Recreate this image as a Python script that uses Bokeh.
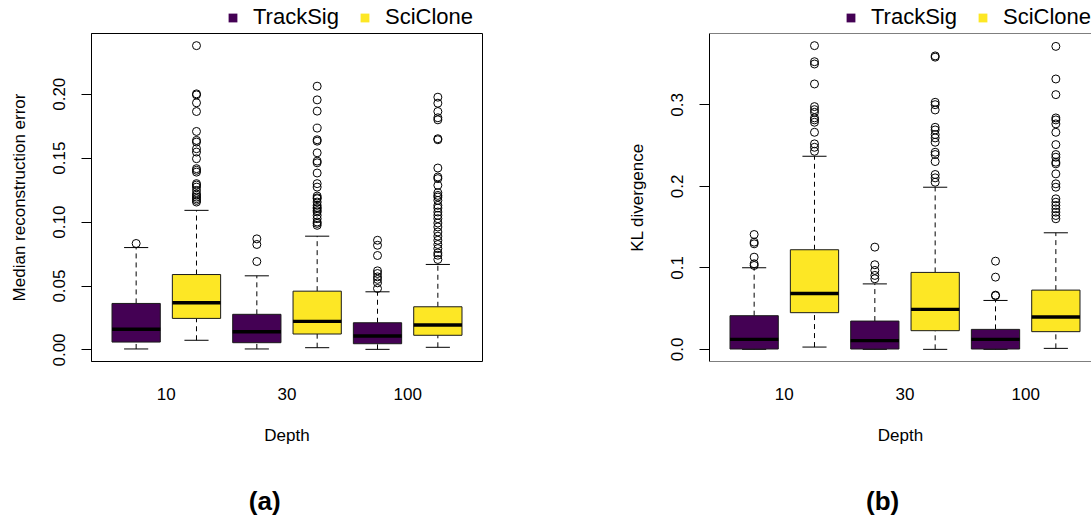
from bokeh.plotting import figure
from bokeh.models import (Range1d, FixedTicker, NumeralTickFormatter, Legend,
                          LegendItem, Label, Span, ColumnDataSource)
from bokeh.layouts import row, column
from bokeh.embed import file_html
from bokeh.resources import INLINE

FONT = "Liberation Sans"

depths = ["10", "30", "100"]
methods = ["TrackSig", "SciClone"]
method_colors = ["#440154", "#FDE725"]

# Box order: TrackSig 10, SciClone 10, TrackSig 30, SciClone 30, TrackSig 100, SciClone 100
err_lower = [0.0008, 0.0076, 0.0008, 0.0018, 0.0005, 0.0021]
err_q1 = [0.0062, 0.0247, 0.0057, 0.0125, 0.0049, 0.0115]
err_median = [0.0162, 0.0369, 0.0143, 0.0224, 0.0109, 0.0195]
err_q3 = [0.0364, 0.0590, 0.0279, 0.0460, 0.0213, 0.0338]
err_upper = [0.0801, 0.1092, 0.0580, 0.0890, 0.0455, 0.0669]
err_outliers = [
    [0.0833],
    [0.2380, 0.2003, 0.1995, 0.1933, 0.1865, 0.1709, 0.1639, 0.1626, 0.1574,
     0.1548, 0.1496, 0.1418, 0.1405, 0.1391, 0.1301, 0.1290, 0.1274, 0.1248,
     0.1222, 0.1210, 0.1196, 0.1183, 0.1170, 0.1157],
    [0.0869, 0.0825, 0.0692],
    [0.2063, 0.1956, 0.1868, 0.1735, 0.1644, 0.1633, 0.1542, 0.1477, 0.1464,
     0.1384, 0.1301, 0.1274, 0.1204, 0.1190, 0.1183, 0.1157, 0.1131, 0.1115,
     0.1105, 0.1090, 0.1079, 0.1053, 0.1027, 0.1001, 0.0990, 0.0975],
    [0.0858, 0.0819, 0.0739, 0.0619, 0.0598, 0.0572, 0.0552, 0.0525, 0.0481],
    [0.1977, 0.1930, 0.1865, 0.1816, 0.1800, 0.1652, 0.1644, 0.1423, 0.1353,
     0.1340, 0.1288, 0.1230, 0.1209, 0.1196, 0.1170, 0.1131, 0.1110, 0.1079,
     0.1053, 0.1027, 0.0993, 0.0962, 0.0923, 0.0890, 0.0858, 0.0825, 0.0793,
     0.0759, 0.0741, 0.0708],
]

kl_lower = [0.0, 0.0028, 0.0, 0.0, 0.0, 0.0012]
kl_q1 = [0.0004, 0.0450, 0.0004, 0.0229, 0.0004, 0.0217]
kl_median = [0.0123, 0.0686, 0.0107, 0.0490, 0.0123, 0.0396]
kl_q3 = [0.0413, 0.1222, 0.0347, 0.0944, 0.0245, 0.0727]
kl_upper = [0.1001, 0.2369, 0.0803, 0.1989, 0.0600, 0.1430]
kl_outliers = [
    [0.1409, 0.1315, 0.1295, 0.1131, 0.1050, 0.1029],
    [0.3726, 0.3529, 0.3501, 0.3256, 0.2978, 0.2941, 0.2908, 0.2840, 0.2815,
     0.2786, 0.2663, 0.2521, 0.2479, 0.2430],
    [0.1254, 0.1038, 0.0968, 0.0907, 0.0866],
    [0.3600, 0.3585, 0.3031, 0.3002, 0.2937, 0.2724, 0.2692, 0.2635, 0.2594,
     0.2541, 0.2418, 0.2390, 0.2304, 0.2145, 0.2104, 0.2050],
    [0.1082, 0.0886, 0.0665, 0.0658],
    [0.3717, 0.3317, 0.3125, 0.2839, 0.2815, 0.2766, 0.2663, 0.2512, 0.2390,
     0.2357, 0.2296, 0.2276, 0.2153, 0.2031, 0.1989, 0.1847, 0.1805, 0.1765,
     0.1724, 0.1683, 0.1642, 0.1602],
]

err_ticks = [0.0, 0.05, 0.10, 0.15, 0.20]
kl_ticks = [0.0, 0.1, 0.2, 0.3]

BOX_W = 0.8
CAP_W = 0.4
PX_PER_UNIT = 391 / 6.48  # full panel: 6 boxes plus 4% padding on each side

HEAD_H = 31   # strip holding the legend
MAIN_H = 444  # box plot
FOOT_H = 40   # strip holding the panel tag


def strip(width, height):
    s = figure(width=width, height=height, x_range=Range1d(0, width),
               y_range=Range1d(0, height), output_backend="svg",
               toolbar_location=None, x_axis_location=None,
               y_axis_location=None, min_border=0)
    s.grid.visible = False
    s.outline_line_color = None
    s.background_fill_color = "white"
    s.border_fill_color = "white"
    return s


def legend_strip(width, border_left):
    s = strip(width, HEAD_H)
    # swatch glyphs kept off-canvas; only their legend entries are shown
    dummies = [s.quad(left=[-20], right=[-10], top=[-10], bottom=[-20],
                      fill_color=c, line_color=None) for c in method_colors]
    legend = Legend(items=[LegendItem(label=m, renderers=[r], index=0)
                           for m, r in zip(methods, dummies)],
                    location=(border_left + 136, 1), orientation="horizontal",
                    glyph_width=11, glyph_height=11, label_standoff=15,
                    spacing=20, padding=0, margin=0,
                    border_line_color=None, background_fill_alpha=0,
                    label_text_font=FONT, label_text_font_size="22px",
                    label_text_color="black")
    s.add_layout(legend, "center")
    return s


def tag_strip(width, border_left, tag):
    s = strip(width, FOOT_H)
    s.add_layout(Label(x=border_left + (3.13 - 0.26) * PX_PER_UNIT, y=15,
                       text=tag, text_font=FONT, text_font_size="26px",
                       text_font_style="bold", text_color="black",
                       text_align="center", text_baseline="middle"))
    return s


def make_panel(lower, q1, med, q3, upper, outliers, ylabel, yticks, yfmt,
               border_left, frame_w, border_right, full_frame):
    n = len(med)
    pos = list(range(1, n + 1))
    colors = [method_colors[i % 2] for i in range(n)]

    all_vals = lower + upper + [v for o in outliers for v in o]
    lo, hi = min(all_vals), max(all_vals)
    pad = 0.04 * (hi - lo)
    y0, y1 = lo - pad, hi + pad
    x0 = 0.5 - 0.04 * n
    x1 = x0 + frame_w / PX_PER_UNIT

    p = figure(width=border_left + frame_w + border_right, height=MAIN_H,
               x_range=Range1d(x0, x1), y_range=Range1d(y0, y1),
               output_backend="svg", toolbar_location=None,
               min_border_left=border_left, min_border_right=border_right,
               min_border_top=2, min_border_bottom=114)
    p.grid.visible = False
    p.background_fill_color = "white"
    p.border_fill_color = "white"
    if full_frame:
        p.outline_line_color = "black"
        p.outline_line_width = 1
    else:
        # open on the right: only top and bottom edges of the box
        p.outline_line_color = None
        p.add_layout(Span(location=y1, dimension="width", line_color="black", line_width=1))
        p.add_layout(Span(location=y0, dimension="width", line_color="black", line_width=1))

    box = ColumnDataSource(dict(x=pos, q1=q1, q3=q3, med=med, lower=lower,
                                upper=upper, color=colors,
                                xl=[x - BOX_W / 2 for x in pos],
                                xr=[x + BOX_W / 2 for x in pos],
                                cl=[x - CAP_W / 2 for x in pos],
                                cr=[x + CAP_W / 2 for x in pos]))

    # whiskers
    p.segment(x0="x", y0="q3", x1="x", y1="upper", source=box,
              line_color="black", line_width=1, line_dash="5 4")
    p.segment(x0="x", y0="lower", x1="x", y1="q1", source=box,
              line_color="black", line_width=1, line_dash="5 4")
    # staples
    p.segment(x0="cl", y0="upper", x1="cr", y1="upper", source=box,
              line_color="black", line_width=1)
    p.segment(x0="cl", y0="lower", x1="cr", y1="lower", source=box,
              line_color="black", line_width=1)
    # boxes and medians
    p.vbar(x="x", width=BOX_W, bottom="q1", top="q3", source=box,
           fill_color="color", line_color="#1a1a1a", line_width=1)
    p.segment(x0="xl", y0="med", x1="xr", y1="med", source=box,
              line_color="black", line_width=3.4)

    ox = [pos[i] for i, o in enumerate(outliers) for _ in o]
    oy = [v for o in outliers for v in o]
    p.scatter(ox, oy, marker="circle", size=8, fill_color=None,
              line_color="black", line_width=1)

    # y axis
    ya = p.yaxis[0]
    ya.ticker = FixedTicker(ticks=yticks)
    ya.formatter = NumeralTickFormatter(format=yfmt)
    ya.major_label_orientation = "vertical"
    ya.major_tick_out = 10
    ya.major_tick_in = 0
    ya.minor_tick_line_color = None
    ya.axis_line_color = "black"
    ya.major_tick_line_color = "black"
    ya.major_label_text_font = FONT
    ya.major_label_text_font_size = "17px"
    ya.major_label_text_color = "black"
    ya.major_label_standoff = 16
    ya.axis_label = ylabel
    ya.axis_label_text_font = FONT
    ya.axis_label_text_font_size = "17px"
    ya.axis_label_text_font_style = "normal"
    ya.axis_label_text_color = "black"
    ya.axis_label_standoff = 22

    # x axis: depth groups, labels centred between each pair of boxes
    xa = p.xaxis[0]
    centers = [pos[2 * i] + 0.5 for i in range(len(depths))]
    xa.ticker = FixedTicker(ticks=centers)
    xa.major_label_overrides = {c: d for c, d in zip(centers, depths)}
    xa.axis_line_color = None
    xa.major_tick_line_color = None
    xa.minor_tick_line_color = None
    xa.major_tick_out = 0
    xa.major_label_standoff = 26
    xa.major_label_text_font = FONT
    xa.major_label_text_font_size = "17px"
    xa.major_label_text_color = "black"
    xa.axis_label = "Depth"
    xa.axis_label_text_font = FONT
    xa.axis_label_text_font_size = "17px"
    xa.axis_label_text_font_style = "normal"
    xa.axis_label_text_color = "black"
    xa.axis_label_standoff = 23
    return p


LW, RW = 545, 546
left = make_panel(err_lower, err_q1, err_median, err_q3, err_upper, err_outliers,
                  "Median reconstruction error", err_ticks, "0.00",
                  91, 391, 63, True)
right = make_panel(kl_lower, kl_q1, kl_median, kl_q3, kl_upper, kl_outliers,
                   "KL divergence", kl_ticks, "0.0",
                   164, 382, 0, False)

layout = column(
    row(legend_strip(LW, 91), legend_strip(RW, 164), spacing=0),
    row(left, right, spacing=0),
    row(tag_strip(LW, 91, "(a)"), tag_strip(RW, 164, "(b)"), spacing=0),
    spacing=0,
)
open("out.html", "w").write(file_html(layout, INLINE))
